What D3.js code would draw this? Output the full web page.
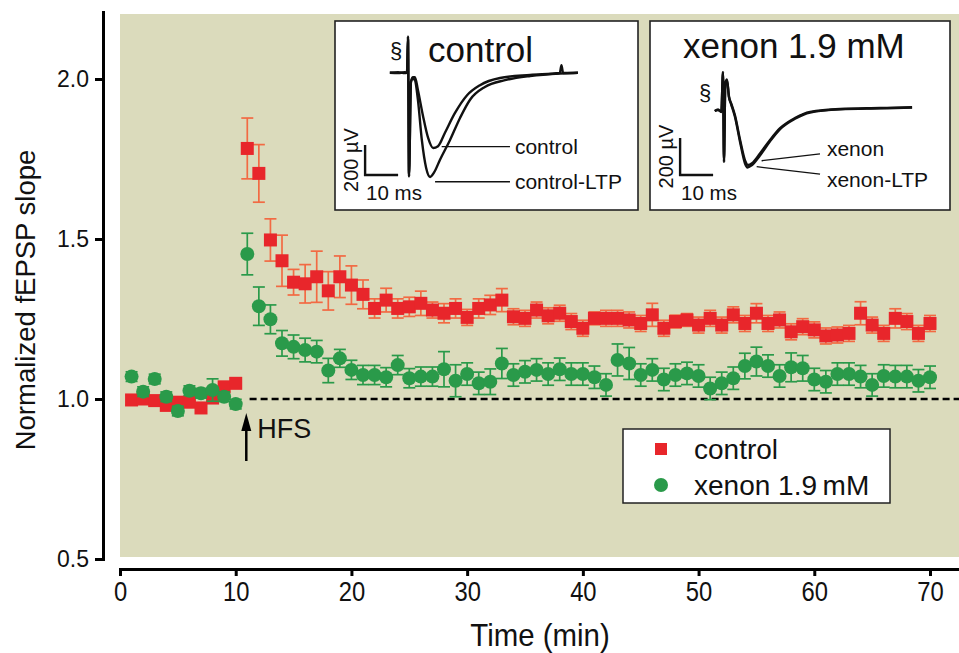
<!doctype html>
<html>
  <head>
    <meta charset="utf-8">
    <title>fEPSP slope</title>
    <script src="https://cdn.jsdelivr.net/npm/d3@7"></script>
    <style>
      body { margin: 0; background: #fff; }
      text { font-family: "Liberation Sans", Arial, sans-serif; fill: #111; }
    </style>
  </head>
  <body>
    <script>
      // minutes 1..70
      const times = d3.range(1, 71);

      const controlMean = [
        0.997, 1.0, 0.995, 0.98, 0.99, 0.99, 0.972, 1.003, 1.038, 1.049,
        1.783, 1.705, 1.497, 1.432, 1.365, 1.36, 1.382, 1.338, 1.382, 1.356,
        1.327, 1.283, 1.309, 1.283, 1.288, 1.299, 1.278, 1.268, 1.283, 1.255,
        1.283, 1.294, 1.309, 1.257, 1.252, 1.278, 1.26, 1.268, 1.242, 1.221,
        1.252, 1.252, 1.252, 1.247, 1.236, 1.263, 1.221, 1.242, 1.247, 1.231,
        1.252, 1.231, 1.263, 1.236, 1.268, 1.236, 1.247, 1.21, 1.226, 1.216,
        1.197, 1.2, 1.205, 1.268, 1.231, 1.205, 1.252, 1.242, 1.205, 1.236
      ];
      const controlErr = [
        0.015, 0.015, 0.015, 0.015, 0.015, 0.015, 0.015, 0.015, 0.015, 0.015,
        0.095, 0.09, 0.066, 0.08, 0.04, 0.06, 0.08, 0.06, 0.065, 0.06,
        0.045, 0.03, 0.037, 0.03, 0.03, 0.038, 0.025, 0.03, 0.03, 0.025,
        0.03, 0.03, 0.036, 0.025, 0.025, 0.025, 0.025, 0.025, 0.025, 0.025,
        0.02, 0.025, 0.025, 0.025, 0.025, 0.036, 0.025, 0.02, 0.02, 0.025,
        0.025, 0.025, 0.025, 0.025, 0.03, 0.025, 0.025, 0.025, 0.025, 0.025,
        0.025, 0.025, 0.025, 0.036, 0.025, 0.025, 0.03, 0.025, 0.025, 0.025
      ];
      const xenonMean = [
        1.07, 1.023, 1.0625, 1.007, 0.9625, 1.026, 1.018, 1.028, 1.007, 0.984,
        1.453, 1.29, 1.249, 1.174, 1.163, 1.153, 1.148, 1.089, 1.127, 1.091,
        1.075, 1.075, 1.068, 1.106, 1.065, 1.07, 1.07, 1.093, 1.057, 1.078,
        1.049, 1.054, 1.111, 1.075, 1.085, 1.091, 1.078, 1.093, 1.078, 1.078,
        1.068, 1.044, 1.122, 1.111, 1.075, 1.091, 1.061, 1.075, 1.08, 1.072,
        1.033, 1.049, 1.065, 1.103, 1.117, 1.103, 1.072, 1.099, 1.096, 1.061,
        1.054, 1.078, 1.078, 1.07, 1.044, 1.072, 1.07, 1.07, 1.057, 1.068
      ];
      const xenonErr = [
        0.015, 0.015, 0.015, 0.015, 0.015, 0.015, 0.015, 0.035, 0.015, 0.015,
        0.065, 0.06, 0.045, 0.04, 0.037, 0.037, 0.035, 0.038, 0.028, 0.03,
        0.03, 0.03, 0.03, 0.03, 0.03, 0.03, 0.03, 0.055, 0.05, 0.035,
        0.035, 0.04, 0.047, 0.035, 0.035, 0.035, 0.035, 0.035, 0.035, 0.035,
        0.035, 0.035, 0.05, 0.05, 0.035, 0.035, 0.035, 0.035, 0.035, 0.035,
        0.035, 0.035, 0.035, 0.04, 0.045, 0.035, 0.035, 0.045, 0.04, 0.035,
        0.035, 0.035, 0.035, 0.035, 0.035, 0.035, 0.035, 0.035, 0.035, 0.035
      ];

      const yTicks = [0.5, 1.0, 1.5, 2.0];
      const xTicks = [0, 10, 20, 30, 40, 50, 60, 70];
      const hfsTime = 11;

      // inset traces: [ms, µV], 0 ms = stimulus artifact
      const ctlTrace = [
        [-5.5, 0], [-3, 4], [-1, -3], [-0.3, 0], [0, 240], [0.3, -690], [0.9, -60], [1.5, -30],
        [2.1, -30], [3, -115], [4.5, -283], [6.1, -435], [7.6, -502], [9.1, -490], [11.2, -400],
        [14.2, -270], [17.9, -150], [21.8, -83], [27.9, -35], [37, -15], [46, -2], [46.5, 50],
        [47, -2], [51.5, 0]
      ];
      const ctlLtpTrace = [
        [-5.5, 0], [-3, -3], [-1, 3], [-0.3, 0], [0, 240], [0.3, -690], [0.9, -60], [1.5, -40],
        [2.1, -50], [3, -180], [4.2, -450], [5.5, -635], [6.7, -695], [7.9, -665], [9.7, -580],
        [12.7, -450], [15.8, -300], [18.8, -180], [23.3, -95], [29.4, -50], [37, -22], [46, -5],
        [51.5, 0]
      ];
      const xenTrace = [
        [-2.5, 0], [-1.5, 8], [-0.5, -5], [0, 210], [0.3, -275], [0.7, 150], [1.2, 170], [1.8, 80],
        [2.5, 40], [3.6, -22], [5.2, -158], [6.7, -268], [7.6, -292], [8.8, -282], [11.2, -230],
        [14.2, -158], [17.3, -93], [21.8, -38], [26.4, -5], [35.5, 11], [47.6, 16], [57.3, 20]
      ];
      const xenLtpTrace = [
        [-2.5, 0], [-1.5, 5], [-0.5, -3], [0, 210], [0.3, -275], [0.7, 150], [1.2, 165], [1.8, 75],
        [2.5, 35], [3.6, -30], [5.2, -170], [6.7, -285], [7.4, -305], [8.6, -295], [11.2, -240],
        [14.2, -165], [17.3, -98], [21.8, -42], [26.4, -8], [35.5, 9], [47.6, 14], [57.3, 18]
      ];

      const width = 959, height = 653;
      const red = '#e8262b', redBar = '#f26a43', green = '#2a9a4a';

      const svg = d3.select('body').append('svg')
          .attr('width', width)
          .attr('height', height);

      const x = d3.scaleLinear().domain([0, 70]).range([120, 930]);
      const y = d3.scaleLinear().domain([0.5, 2.0]).range([559, 79]);

      // plot background
      svg.append('rect')
          .attr('x', x(0)).attr('y', 14)
          .attr('width', width - x(0)).attr('height', 557 - 14)
          .attr('fill', '#dbdbbc');

      // axes
      const yAxisScale = d3.scaleLinear().domain([0.5, y.invert(12)]).range([559, 12]);
      const yAxis = svg.append('g')
          .attr('transform', 'translate(103,0)')
          .call(d3.axisLeft(yAxisScale).tickValues(yTicks).tickFormat(d3.format('.1f'))
            .tickSize(8).tickSizeOuter(0).tickPadding(6));
      yAxis.selectAll('path, line').attr('stroke', '#000').attr('stroke-width', 3);
      yAxis.selectAll('text').attr('font-size', 23).attr('fill', '#111');

      const xAxisScale = d3.scaleLinear().domain([0, x.invert(959)]).range([120, 959]);
      const xAxis = svg.append('g')
          .attr('transform', 'translate(0,569)')
          .call(d3.axisBottom(xAxisScale).tickValues(xTicks).tickSize(7).tickSizeOuter(0).tickPadding(5));
      xAxis.selectAll('path, line').attr('stroke', '#000').attr('stroke-width', 3);
      xAxis.selectAll('text').attr('font-size', 28).attr('fill', '#111')
          .attr('transform', 'scale(0.85,1)');
      svg.selectAll('.domain').attr('stroke-linecap', 'square');

      svg.append('text')
          .attr('transform', 'translate(35,300) rotate(-90)')
          .attr('text-anchor', 'middle')
          .attr('font-size', 27.5)
          .text('Normalized fEPSP slope');

      svg.append('text')
          .attr('transform', `translate(${x(36.3)},646) scale(0.92,1)`)
          .attr('text-anchor', 'middle')
          .attr('font-size', 32)
          .text('Time (min)');

      // baseline
      svg.append('line')
          .attr('x1', x(11.2)).attr('x2', width)
          .attr('y1', y(1)).attr('y2', y(1))
          .attr('stroke', '#000').attr('stroke-width', 2.6)
          .attr('stroke-dasharray', '7,4');

      // HFS arrow
      const ax = x(hfsTime) - 1;
      svg.append('line')
          .attr('x1', ax).attr('x2', ax)
          .attr('y1', 461).attr('y2', 425)
          .attr('stroke', '#000').attr('stroke-width', 2.5);
      svg.append('path')
          .attr('d', `M${ax},413 L${ax - 5},431 L${ax + 5},431 Z`)
          .attr('fill', '#000');
      svg.append('text')
          .attr('x', ax + 11).attr('y', 438)
          .attr('font-size', 27)
          .text('HFS');

      // series
      function drawSeries(mean, err, color, barColor, kind) {
        const g = svg.append('g');
        const pts = times.map((t, i) => ({ t, m: mean[i], e: err[i] }));
        const bars = g.selectAll('g.bar').data(pts).enter().append('g')
            .attr('stroke', barColor).attr('stroke-width', 1.7);
        bars.append('line')
            .attr('x1', d => x(d.t)).attr('x2', d => x(d.t))
            .attr('y1', d => y(d.m - d.e)).attr('y2', d => y(d.m + d.e));
        bars.append('line')
            .attr('x1', d => x(d.t) - 6).attr('x2', d => x(d.t) + 6)
            .attr('y1', d => y(d.m + d.e)).attr('y2', d => y(d.m + d.e));
        bars.append('line')
            .attr('x1', d => x(d.t) - 6).attr('x2', d => x(d.t) + 6)
            .attr('y1', d => y(d.m - d.e)).attr('y2', d => y(d.m - d.e));
        if (kind === 'square') {
          g.selectAll('rect').data(pts).enter().append('rect')
              .attr('x', d => x(d.t) - 6.5).attr('y', d => y(d.m) - 6.5)
              .attr('width', 13).attr('height', 13)
              .attr('fill', color);
        } else {
          g.selectAll('circle').data(pts).enter().append('circle')
              .attr('cx', d => x(d.t)).attr('cy', d => y(d.m))
              .attr('r', 7)
              .attr('fill', color);
        }
      }
      drawSeries(controlMean, controlErr, red, redBar, 'square');
      drawSeries(xenonMean, xenonErr, green, green, 'circle');

      // legend
      const lg = svg.append('g');
      lg.append('rect')
          .attr('x', 623).attr('y', 429).attr('width', 267).attr('height', 74)
          .attr('fill', '#fff').attr('stroke', '#222').attr('stroke-width', 1.5);
      lg.append('rect').attr('x', 655).attr('y', 443).attr('width', 12).attr('height', 12).attr('fill', red);
      lg.append('circle').attr('cx', 661).attr('cy', 485).attr('r', 7).attr('fill', green);
      lg.append('text').attr('x', 694).attr('y', 459).attr('font-size', 28).text('control');
      lg.append('text').attr('x', 694).attr('y', 495).attr('font-size', 28).text('xenon 1.9\u2009mM');

      // insets
      function inset(opt) {
        const g = svg.append('g');
        g.append('rect')
            .attr('x', opt.box[0]).attr('y', opt.box[1])
            .attr('width', opt.box[2]).attr('height', opt.box[3])
            .attr('fill', '#fff').attr('stroke', '#222').attr('stroke-width', 1.6);
        const tx = d3.scaleLinear().domain([0, 10]).range([opt.origin[0], opt.origin[0] + 33]);
        const ty = d3.scaleLinear().domain([0, -200]).range([opt.origin[1], opt.origin[1] + opt.barH]);
        const line = d3.line().x(d => tx(d[0])).y(d => ty(d[1])).curve(d3.curveMonotoneX);
        opt.traces.forEach(tr => {
          g.append('path').attr('d', line(tr))
              .attr('fill', 'none').attr('stroke', '#111').attr('stroke-width', 2.4)
              .attr('stroke-linejoin', 'round');
        });
        // scale bar
        const sb = opt.scaleBar;
        g.append('path')
            .attr('d', `M${tx(sb[0])},${ty(sb[1] + 200)} V${ty(sb[1])} H${tx(sb[0] + 10)}`)
            .attr('fill', 'none').attr('stroke', '#111').attr('stroke-width', 2.4);
        g.append('text')
            .attr('transform', `translate(${tx(sb[0]) - 7},${ty(sb[1] + 100)}) rotate(-90)`)
            .attr('text-anchor', 'middle').attr('font-size', 20)
            .text('200 \u00b5V');
        g.append('text')
            .attr('x', tx(sb[0]) + 1).attr('y', ty(sb[1]) + 25)
            .attr('font-size', 20.5).text('10 ms');
        // pointer labels
        opt.labels.forEach(l => {
          g.append('line')
              .attr('x1', tx(l.from[0])).attr('y1', ty(l.from[1]))
              .attr('x2', tx(l.to[0])).attr('y2', ty(l.to[1]))
              .attr('stroke', '#111').attr('stroke-width', 1.3);
          g.append('text')
              .attr('x', tx(l.at[0])).attr('y', ty(l.at[1]) + 7)
              .attr('font-size', 21).text(l.text);
        });
        g.append('text')
            .attr('x', opt.sect[0]).attr('y', opt.sect[1])
            .attr('font-size', 22).attr('text-anchor', 'middle').text('\u00a7');
        g.append('text')
            .attr('x', opt.title[0]).attr('y', opt.title[1])
            .attr('font-size', 35).text(opt.title[2]);
      }

      inset({
        box: [335, 21, 303, 189],
        origin: [408, 72.7], barH: 30,
        traces: [ctlTrace, ctlLtpTrace],
        scaleBar: [-13, -682],
        labels: [
          { from: [10.2, -493], to: [30.9, -493], at: [32.4, -493], text: 'control' },
          { from: [8.2, -727], to: [30.9, -727], at: [32.4, -727], text: 'control-LTP' }
        ],
        sect: [396, 58],
        title: [428, 62, 'control']
      });

      inset({
        box: [650, 21, 300, 189],
        origin: [723, 111], barH: 37,
        traces: [xenTrace, xenLtpTrace],
        scaleBar: [-13, -346],
        labels: [
          { from: [11.7, -269], to: [29.4, -232], at: [31.5, -205], text: 'xenon' },
          { from: [10.2, -301], to: [29.4, -341], at: [31.5, -375], text: 'xenon-LTP' }
        ],
        sect: [705, 100],
        title: [683, 58, 'xenon 1.9 mM']
      });
    </script>
  </body>
</html>
